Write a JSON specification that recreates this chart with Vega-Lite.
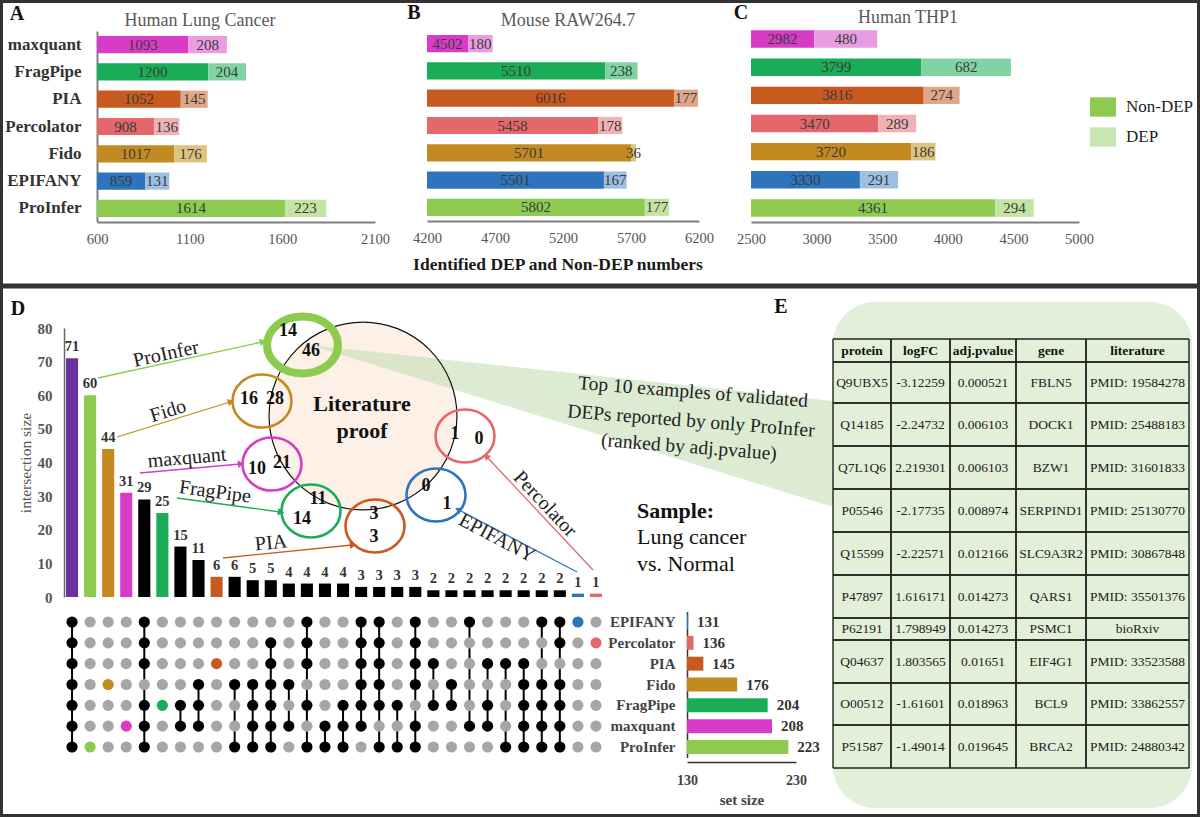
{
"$schema": "https://vega.github.io/schema/vega-lite/v6.json",
"width": 1200, "height": 817,
"autosize": {"type": "none"},
"padding": 0,
"background": "#ffffff",
"config": {
  "view": {"stroke": "#333333", "strokeWidth": 6},
  "font": "Liberation Serif",
  "axis": {"grid": false, "labelFont": "Liberation Serif", "titleFont": "Liberation Serif", "labelOverlap": false},
  "legend": {"labelFont": "Liberation Serif", "titleFont": "Liberation Serif"},
  "text": {"font": "Liberation Serif"}
},
"datasets": {
  "bars": [
    {"p":"A","m":"maxquant","non":1093,"dep":208},{"p":"A","m":"FragPipe","non":1200,"dep":204},{"p":"A","m":"PIA","non":1052,"dep":145},{"p":"A","m":"Percolator","non":908,"dep":136},{"p":"A","m":"Fido","non":1017,"dep":176},{"p":"A","m":"EPIFANY","non":859,"dep":131},{"p":"A","m":"ProInfer","non":1614,"dep":223},
    {"p":"B","m":"maxquant","non":4502,"dep":180},{"p":"B","m":"FragPipe","non":5510,"dep":238},{"p":"B","m":"PIA","non":6016,"dep":177},{"p":"B","m":"Percolator","non":5458,"dep":178},{"p":"B","m":"Fido","non":5701,"dep":36},{"p":"B","m":"EPIFANY","non":5501,"dep":167},{"p":"B","m":"ProInfer","non":5802,"dep":177},
    {"p":"C","m":"maxquant","non":2982,"dep":480},{"p":"C","m":"FragPipe","non":3799,"dep":682},{"p":"C","m":"PIA","non":3816,"dep":274},{"p":"C","m":"Percolator","non":3470,"dep":289},{"p":"C","m":"Fido","non":3720,"dep":186},{"p":"C","m":"EPIFANY","non":3330,"dep":291},{"p":"C","m":"ProInfer","non":4361,"dep":294}
  ],
  "inter": [
    {"c":1,"n":71,"k":"all","EPIFANY":1,"Percolator":1,"PIA":1,"Fido":1,"FragPipe":1,"maxquant":1,"ProInfer":1},
    {"c":2,"n":60,"k":"ProInfer","EPIFANY":0,"Percolator":0,"PIA":0,"Fido":0,"FragPipe":0,"maxquant":0,"ProInfer":1},
    {"c":3,"n":44,"k":"Fido","EPIFANY":0,"Percolator":0,"PIA":0,"Fido":1,"FragPipe":0,"maxquant":0,"ProInfer":0},
    {"c":4,"n":31,"k":"maxquant","EPIFANY":0,"Percolator":0,"PIA":0,"Fido":0,"FragPipe":0,"maxquant":1,"ProInfer":0},
    {"c":5,"n":29,"k":"multi","EPIFANY":1,"Percolator":1,"PIA":1,"Fido":0,"FragPipe":1,"maxquant":1,"ProInfer":1},
    {"c":6,"n":25,"k":"FragPipe","EPIFANY":0,"Percolator":0,"PIA":0,"Fido":0,"FragPipe":1,"maxquant":0,"ProInfer":0},
    {"c":7,"n":15,"k":"multi","EPIFANY":0,"Percolator":0,"PIA":0,"Fido":0,"FragPipe":1,"maxquant":1,"ProInfer":0},
    {"c":8,"n":11,"k":"multi","EPIFANY":0,"Percolator":0,"PIA":0,"Fido":1,"FragPipe":1,"maxquant":1,"ProInfer":0},
    {"c":9,"n":6,"k":"PIA","EPIFANY":0,"Percolator":0,"PIA":1,"Fido":0,"FragPipe":0,"maxquant":0,"ProInfer":0},
    {"c":10,"n":6,"k":"multi","EPIFANY":0,"Percolator":0,"PIA":0,"Fido":1,"FragPipe":0,"maxquant":0,"ProInfer":1},
    {"c":11,"n":5,"k":"multi","EPIFANY":0,"Percolator":0,"PIA":0,"Fido":1,"FragPipe":1,"maxquant":1,"ProInfer":1},
    {"c":12,"n":5,"k":"multi","EPIFANY":0,"Percolator":1,"PIA":1,"Fido":1,"FragPipe":1,"maxquant":1,"ProInfer":1},
    {"c":13,"n":4,"k":"multi","EPIFANY":0,"Percolator":0,"PIA":0,"Fido":1,"FragPipe":0,"maxquant":1,"ProInfer":0},
    {"c":14,"n":4,"k":"multi","EPIFANY":1,"Percolator":1,"PIA":1,"Fido":0,"FragPipe":1,"maxquant":0,"ProInfer":1},
    {"c":15,"n":4,"k":"multi","EPIFANY":0,"Percolator":0,"PIA":0,"Fido":0,"FragPipe":0,"maxquant":1,"ProInfer":1},
    {"c":16,"n":4,"k":"multi","EPIFANY":0,"Percolator":0,"PIA":0,"Fido":0,"FragPipe":1,"maxquant":1,"ProInfer":1},
    {"c":17,"n":3,"k":"multi","EPIFANY":1,"Percolator":1,"PIA":1,"Fido":1,"FragPipe":1,"maxquant":1,"ProInfer":0},
    {"c":18,"n":3,"k":"multi","EPIFANY":1,"Percolator":1,"PIA":1,"Fido":1,"FragPipe":1,"maxquant":0,"ProInfer":1},
    {"c":19,"n":3,"k":"multi","EPIFANY":0,"Percolator":0,"PIA":0,"Fido":0,"FragPipe":1,"maxquant":0,"ProInfer":1},
    {"c":20,"n":3,"k":"multi","EPIFANY":1,"Percolator":1,"PIA":1,"Fido":1,"FragPipe":0,"maxquant":1,"ProInfer":1},
    {"c":21,"n":2,"k":"multi","EPIFANY":0,"Percolator":0,"PIA":1,"Fido":0,"FragPipe":1,"maxquant":0,"ProInfer":0},
    {"c":22,"n":2,"k":"multi","EPIFANY":0,"Percolator":0,"PIA":0,"Fido":1,"FragPipe":1,"maxquant":0,"ProInfer":0},
    {"c":23,"n":2,"k":"multi","EPIFANY":1,"Percolator":0,"PIA":0,"Fido":0,"FragPipe":0,"maxquant":1,"ProInfer":0},
    {"c":24,"n":2,"k":"multi","EPIFANY":0,"Percolator":0,"PIA":1,"Fido":0,"FragPipe":1,"maxquant":1,"ProInfer":0},
    {"c":25,"n":2,"k":"multi","EPIFANY":0,"Percolator":0,"PIA":1,"Fido":0,"FragPipe":0,"maxquant":0,"ProInfer":1},
    {"c":26,"n":2,"k":"multi","EPIFANY":0,"Percolator":0,"PIA":1,"Fido":1,"FragPipe":1,"maxquant":1,"ProInfer":1},
    {"c":27,"n":2,"k":"multi","EPIFANY":1,"Percolator":0,"PIA":0,"Fido":1,"FragPipe":1,"maxquant":1,"ProInfer":1},
    {"c":28,"n":2,"k":"multi","EPIFANY":1,"Percolator":1,"PIA":0,"Fido":1,"FragPipe":1,"maxquant":1,"ProInfer":1},
    {"c":29,"n":1,"k":"EPIFANY","EPIFANY":1,"Percolator":0,"PIA":0,"Fido":0,"FragPipe":0,"maxquant":0,"ProInfer":0},
    {"c":30,"n":1,"k":"Percolator","EPIFANY":0,"Percolator":1,"PIA":0,"Fido":0,"FragPipe":0,"maxquant":0,"ProInfer":0}
  ],
  "sets": [
    {"s":"EPIFANY","n":131},{"s":"Percolator","n":136},{"s":"PIA","n":145},{"s":"Fido","n":176},{"s":"FragPipe","n":204},{"s":"maxquant","n":208},{"s":"ProInfer","n":223}
  ],
  "tbl": [
    {"r":0,"protein":"protein","logFC":"logFC","adjp":"adj.pvalue","gene":"gene","lit":"literature"},
    {"r":1,"protein":"Q9UBX5","logFC":"-3.12259","adjp":"0.000521","gene":"FBLN5","lit":"PMID: 19584278"},
    {"r":2,"protein":"Q14185","logFC":"-2.24732","adjp":"0.006103","gene":"DOCK1","lit":"PMID: 25488183"},
    {"r":3,"protein":"Q7L1Q6","logFC":"2.219301","adjp":"0.006103","gene":"BZW1","lit":"PMID: 31601833"},
    {"r":4,"protein":"P05546","logFC":"-2.17735","adjp":"0.008974","gene":"SERPIND1","lit":"PMID: 25130770"},
    {"r":5,"protein":"Q15599","logFC":"-2.22571","adjp":"0.012166","gene":"SLC9A3R2","lit":"PMID: 30867848"},
    {"r":6,"protein":"P47897","logFC":"1.616171","adjp":"0.014273","gene":"QARS1","lit":"PMID: 35501376"},
    {"r":7,"protein":"P62191","logFC":"1.798949","adjp":"0.014273","gene":"PSMC1","lit":"bioRxiv"},
    {"r":8,"protein":"Q04637","logFC":"1.803565","adjp":"0.01651","gene":"EIF4G1","lit":"PMID: 33523588"},
    {"r":9,"protein":"O00512","logFC":"-1.61601","adjp":"0.018963","gene":"BCL9","lit":"PMID: 33862557"},
    {"r":10,"protein":"P51587","logFC":"-1.49014","adjp":"0.019645","gene":"BRCA2","lit":"PMID: 24880342"}
  ],
  "arr": [
    {"s":"ProInfer","x1":98,"y1":378,"x2":262,"y2":342,"lx":166,"ly":354},
    {"s":"Fido","x1":117,"y1":437,"x2":230,"y2":402,"lx":168,"ly":411},
    {"s":"maxquant","x1":140,"y1":473,"x2":240,"y2":464,"lx":187,"ly":458},
    {"s":"FragPipe","x1":177,"y1":498,"x2":280,"y2":512,"lx":215,"ly":492},
    {"s":"PIA","x1":223,"y1":558,"x2":352,"y2":545,"lx":271,"ly":543},
    {"s":"EPIFANY","x1":577,"y1":572,"x2":459,"y2":510,"lx":497,"ly":538},
    {"s":"Percolator","x1":593,"y1":570,"x2":487,"y2":457,"lx":545,"ly":504}
  ],
  "cir": [
    {"s":"ProInfer","x":302.5,"y":345},{"s":"Fido","x":262,"y":401},{"s":"maxquant","x":272,"y":464},{"s":"FragPipe","x":311,"y":511},{"s":"PIA","x":375,"y":526},{"s":"Percolator","x":465,"y":436},{"s":"EPIFANY","x":436,"y":495}
  ],
  "vn": [
    {"s":"ProInfer","v":"14","x":288,"y":331},{"s":"ProInfer","v":"46","x":311,"y":351},
    {"s":"Fido","v":"16","x":249,"y":399},{"s":"Fido","v":"28","x":275,"y":399},
    {"s":"maxquant","v":"10","x":257,"y":469},{"s":"maxquant","v":"21","x":282,"y":463},
    {"s":"FragPipe","v":"11","x":318,"y":499},{"s":"FragPipe","v":"14","x":302,"y":519},
    {"s":"PIA","v":"3","x":374,"y":514},{"s":"PIA","v":"3","x":374,"y":537},
    {"s":"Percolator","v":"1","x":455,"y":434},{"s":"Percolator","v":"0","x":479,"y":439},
    {"s":"EPIFANY","v":"0","x":426,"y":486},{"s":"EPIFANY","v":"1","x":447,"y":504}
  ],
  "lit": [{"x":363,"y":416}],
  "wedge": [{"x":310,"y":345,"y2":345},{"x":833,"y":401,"y2":507}],
  "bg": [{"x":833,"x2":1192,"y":302,"y2":808}],
  "sep": [{"x":0,"x2":1200,"y":286}],
  "ann": [
    {"g":"L","t":"A","x":17,"y":14},{"g":"L","t":"B","x":414,"y":13},{"g":"L","t":"C","x":741,"y":13},{"g":"L","t":"D","x":18,"y":309},{"g":"L","t":"E","x":781,"y":307},
    {"g":"T","t":"Human Lung Cancer","x":200,"y":21},{"g":"T","t":"Mouse RAW264.7","x":568,"y":21},{"g":"T","t":"Human THP1","x":908,"y":18},
    {"g":"X","t":"Identified DEP and Non-DEP numbers","x":558,"y":265},
    {"g":"P","t":"Literature","x":362,"y":404},{"g":"P","t":"proof","x":362,"y":431},
    {"g":"S","t":"Sample:","x":637,"y":511},
    {"g":"R","t":"Lung cancer","x":637,"y":537},{"g":"R","t":"vs.  Normal","x":637,"y":564},
    {"g":"N","t":"Top 10 examples of validated","x":693,"y":392},{"g":"N","t":"DEPs reported by only ProInfer","x":691,"y":421},{"g":"N","t":"(ranked by adj.pvalue)","x":689,"y":447}
  ]
},
"layer": [
  {
    "layer": [
      {"data":{"name":"sep"},"mark":{"type":"rule","color":"#333333","strokeWidth":5},
       "encoding":{"x":{"field":"x","type":"quantitative","scale":{"domain":[0,1200],"range":[0,1200],"nice":false,"zero":false},"axis":null},"x2":{"field":"x2"},
                   "y":{"field":"y","type":"quantitative","scale":{"domain":[0,817],"range":[0,817],"nice":false,"zero":false},"axis":null}}},
      {"data":{"name":"bg"},"mark":{"type":"rect","color":"#e2efd9","cornerRadius":42},
       "encoding":{"x":{"field":"x","type":"quantitative"},"x2":{"field":"x2"},"y":{"field":"y","type":"quantitative"},"y2":{"field":"y2"}}},
      {"data":{"name":"lit"},"mark":{"type":"point","shape":"circle","size":35299,"filled":true,"color":"#fcf0e7","opacity":1},
       "encoding":{"x":{"field":"x","type":"quantitative"},"y":{"field":"y","type":"quantitative"}}},
      {"data":{"name":"wedge"},"mark":{"type":"area","orient":"vertical","color":"#c5e0b4","opacity":0.6},
       "encoding":{"x":{"field":"x","type":"quantitative"},"y":{"field":"y","type":"quantitative"},"y2":{"field":"y2"}}},
      {"data":{"name":"lit"},"mark":{"type":"point","shape":"circle","size":35299,"filled":false,"stroke":"#111111","strokeWidth":1.2,"opacity":1},
       "encoding":{"x":{"field":"x","type":"quantitative"},"y":{"field":"y","type":"quantitative"}}},
      {"data":{"name":"arr"},"mark":{"type":"rule","strokeWidth":1.3},
       "encoding":{"x":{"field":"x1","type":"quantitative"},"y":{"field":"y1","type":"quantitative"},"x2":{"field":"x2"},"y2":{"field":"y2"},
                   "color":{"field":"s","type":"nominal","scale":{"domain":["EPIFANY","Percolator","PIA","Fido","FragPipe","maxquant","ProInfer"],"range":["#2e74bc","#e4676c","#c85a20","#c38a21","#1bac58","#d83cc6","#8ccb4f"]},"legend":null}}},
      {"data":{"name":"arr"},"transform":[{"calculate":"atan2(datum.x2-datum.x1, datum.y1-datum.y2)*180/PI","as":"ha"}],
       "mark":{"type":"point","shape":"triangle","size":55,"filled":true,"opacity":1},
       "encoding":{"x":{"field":"x2","type":"quantitative"},"y":{"field":"y2","type":"quantitative"},"angle":{"field":"ha","type":"quantitative","scale":null},
                   "color":{"field":"s","type":"nominal","legend":null}}},
      {"data":{"name":"cir"},"transform":[{"filter":"datum.s != 'ProInfer'"}],
       "mark":{"type":"point","shape":"M-1,0A1,0.9,0,1,1,1,0A1,0.9,0,1,1,-1,0Z","size":3481,"filled":false,"strokeWidth":2.6,"opacity":1},
       "encoding":{"x":{"field":"x","type":"quantitative"},"y":{"field":"y","type":"quantitative"},"color":{"field":"s","type":"nominal","legend":null}}},
      {"data":{"name":"cir"},"transform":[{"filter":"datum.s == 'ProInfer'"}],
       "mark":{"type":"point","shape":"M-1,0A1,0.8,0,1,1,1,0A1,0.8,0,1,1,-1,0Z","size":5041,"filled":false,"strokeWidth":8,"opacity":1},
       "encoding":{"x":{"field":"x","type":"quantitative"},"y":{"field":"y","type":"quantitative"},"color":{"field":"s","type":"nominal","legend":null}}},
      {"data":{"name":"vn"},"mark":{"type":"text","fontSize":18,"fontWeight":"bold","color":"#111111"},
       "encoding":{"x":{"field":"x","type":"quantitative"},"y":{"field":"y","type":"quantitative"},"text":{"field":"v"}}},
      {"data":{"name":"arr"},"transform":[{"calculate":"atan2(datum.y2-datum.y1, datum.x2-datum.x1)*180/PI","as":"a0"},{"calculate":"datum.a0 > 90 ? datum.a0-180 : (datum.a0 < -90 ? datum.a0+180 : datum.a0)","as":"la"}],
       "mark":{"type":"text","fontSize":20,"color":"#222222"},
       "encoding":{"x":{"field":"lx","type":"quantitative"},"y":{"field":"ly","type":"quantitative"},"text":{"field":"s"},"angle":{"field":"la","type":"quantitative","scale":null}}},
      {"data":{"name":"ann"},"transform":[{"filter":"datum.g == 'L'"}],"mark":{"type":"text","fontSize":20,"fontWeight":"bold","color":"#111111"},
       "encoding":{"x":{"field":"x","type":"quantitative"},"y":{"field":"y","type":"quantitative"},"text":{"field":"t"}}},
      {"data":{"name":"ann"},"transform":[{"filter":"datum.g == 'T'"}],"mark":{"type":"text","fontSize":18,"color":"#595959"},
       "encoding":{"x":{"field":"x","type":"quantitative"},"y":{"field":"y","type":"quantitative"},"text":{"field":"t"}}},
      {"data":{"name":"ann"},"transform":[{"filter":"datum.g == 'X'"}],"mark":{"type":"text","fontSize":17.5,"fontWeight":"bold","color":"#1a1a1a"},
       "encoding":{"x":{"field":"x","type":"quantitative"},"y":{"field":"y","type":"quantitative"},"text":{"field":"t"}}},
      {"data":{"name":"ann"},"transform":[{"filter":"datum.g == 'P'"}],"mark":{"type":"text","fontSize":22,"fontWeight":"bold","color":"#111111"},
       "encoding":{"x":{"field":"x","type":"quantitative"},"y":{"field":"y","type":"quantitative"},"text":{"field":"t"}}},
      {"data":{"name":"ann"},"transform":[{"filter":"datum.g == 'S'"}],"mark":{"type":"text","fontSize":22,"fontWeight":"bold","align":"left","color":"#111111"},
       "encoding":{"x":{"field":"x","type":"quantitative"},"y":{"field":"y","type":"quantitative"},"text":{"field":"t"}}},
      {"data":{"name":"ann"},"transform":[{"filter":"datum.g == 'R'"}],"mark":{"type":"text","fontSize":22,"align":"left","color":"#111111"},
       "encoding":{"x":{"field":"x","type":"quantitative"},"y":{"field":"y","type":"quantitative"},"text":{"field":"t"}}},
      {"data":{"name":"ann"},"transform":[{"filter":"datum.g == 'N'"}],"mark":{"type":"text","fontSize":19.5,"angle":4.5,"color":"#222222"},
       "encoding":{"x":{"field":"x","type":"quantitative"},"y":{"field":"y","type":"quantitative"},"text":{"field":"t"}}}
    ]
  },
  {
    "data": {"name": "tbl"},
    "transform": [
      {"fold": ["protein","logFC","adjp","gene","lit"], "as": ["key","val"]},
      {"calculate": "indexof(['protein','logFC','adjp','gene','lit'], datum.key)", "as": "ci"},
      {"calculate": "datum.ci + 0.5", "as": "cx"},
      {"calculate": "datum.ci + 1", "as": "ce"},
      {"calculate": "datum.r + 0.5", "as": "ry"},
      {"calculate": "datum.r + 1", "as": "re"}
    ],
    "layer": [
      {"transform":[{"filter":"datum.r == 0"}],"mark":{"type":"rule","color":"#222222","strokeWidth":1.4},
       "encoding":{"x":{"field":"ci","type":"quantitative","scale":{"domain":[0,1,2,3,4,5],"range":[833,891,950,1016,1086,1189],"nice":false,"zero":false},"axis":null},
                   "y":{"datum":0,"type":"quantitative","scale":{"domain":[0,1,2,3,4,5,6,7,8,9,10,11],"range":[339,362,403,446,489,532,575,618,640,683,725,768],"nice":false,"zero":false},"axis":null},
                   "y2":{"datum":11}}},
      {"transform":[{"filter":"datum.r == 0"}],"mark":{"type":"rule","color":"#222222","strokeWidth":1.4},
       "encoding":{"x":{"field":"ce","type":"quantitative"},"y":{"datum":0,"type":"quantitative"},"y2":{"datum":11}}},
      {"transform":[{"filter":"datum.key == 'protein'"}],"mark":{"type":"rule","color":"#222222","strokeWidth":1.4},
       "encoding":{"y":{"field":"r","type":"quantitative"},"x":{"datum":0,"type":"quantitative"},"x2":{"datum":5}}},
      {"transform":[{"filter":"datum.key == 'protein'"}],"mark":{"type":"rule","color":"#222222","strokeWidth":1.4},
       "encoding":{"y":{"field":"re","type":"quantitative"},"x":{"datum":0,"type":"quantitative"},"x2":{"datum":5}}},
      {"transform":[{"filter":"datum.r == 0"}],"mark":{"type":"text","fontSize":13.5,"fontWeight":"bold","color":"#111111"},
       "encoding":{"x":{"field":"cx","type":"quantitative"},"y":{"field":"ry","type":"quantitative"},"text":{"field":"val"}}},
      {"transform":[{"filter":"datum.r > 0"}],"mark":{"type":"text","fontSize":13.5,"color":"#222222"},
       "encoding":{"x":{"field":"cx","type":"quantitative"},"y":{"field":"ry","type":"quantitative"},"text":{"field":"val"}}}
    ]
  },
  {
    "data": {"name": "bars"},
    "transform": [
      {"filter": "datum.p == 'A'"},
      {"calculate": "datum.non + datum.dep", "as": "tot"},
      {"calculate": "(600 + datum.non) / 2", "as": "m1"},
      {"calculate": "datum.non + datum.dep / 2", "as": "m2"}
    ],
    "encoding": {
      "y": {"field": "m", "type": "nominal", "sort": ["maxquant","FragPipe","PIA","Percolator","Fido","EPIFANY","ProInfer"],
            "scale": {"range": [31, 222], "paddingInner": 0.37, "paddingOuter": 0.185},
            "axis": {"orient": "left", "offset": -97, "title": null, "ticks": false, "domainColor": "#7f7f7f", "domainWidth": 2,
                     "labelFontWeight": "bold", "labelFontSize": 17, "labelColor": "#333333", "labelPadding": 16}}
    },
    "layer": [
      {"mark": {"type": "bar"},
       "encoding": {"x": {"field": "non", "type": "quantitative", "title": null, "scale": {"domain": [600, 2100], "range": [97, 375], "nice": false, "zero": false},
                          "axis": {"orient": "bottom", "offset": -595, "values": [600, 1100, 1600, 2100], "format": "d", "title": null, "ticks": false, "domainColor": "#7f7f7f", "domainWidth": 2,
                                   "labelFontSize": 14.5, "labelColor": "#555555", "labelPadding": 10, "labelFlush": false}},
                    "x2": {"datum": 600},
                    "color": {"field": "m", "type": "nominal", "scale": {"domain": ["maxquant","FragPipe","PIA","Percolator","Fido","EPIFANY","ProInfer"], "range": ["#d83cc6","#1bac58","#c85a20","#e4676c","#c38a21","#2e74bc","#8ccb4f"]}, "legend": null}}},
      {"mark": {"type": "bar"},
       "encoding": {"x": {"field": "non", "type": "quantitative", "title": null}, "x2": {"field": "tot"},
                    "color": {"field": "m", "type": "nominal", "scale": {"domain": ["maxquant","FragPipe","PIA","Percolator","Fido","EPIFANY","ProInfer"], "range": ["#e99ce1","#80d4a4","#e1a587","#f0b1b4","#dfc27e","#9dbfe3","#c4e4a3"]}, "legend": null}}},
      {"mark": {"type": "text", "fontSize": 15, "color": "#3a3a3a"},
       "encoding": {"x": {"field": "m1", "type": "quantitative", "title": null}, "text": {"field": "non", "type": "nominal"}}},
      {"mark": {"type": "text", "fontSize": 15, "color": "#3a3a3a"},
       "encoding": {"x": {"field": "m2", "type": "quantitative", "title": null}, "text": {"field": "dep", "type": "nominal"}}}
    ],
    "resolve": {"scale": {"color": "independent"}}
  },
  {
    "data": {"name": "bars"},
    "transform": [
      {"filter": "datum.p == 'B'"},
      {"calculate": "datum.non + datum.dep", "as": "tot"},
      {"calculate": "(4200 + datum.non) / 2", "as": "m1"},
      {"calculate": "datum.non + datum.dep / 2", "as": "m2"}
    ],
    "encoding": {
      "y": {"field": "m", "type": "nominal", "sort": ["maxquant","FragPipe","PIA","Percolator","Fido","EPIFANY","ProInfer"],
            "scale": {"range": [30, 221], "paddingInner": 0.37, "paddingOuter": 0.185}, "axis": null}
    },
    "layer": [
      {"mark": {"type": "bar"},
       "encoding": {"x": {"field": "non", "type": "quantitative", "title": null, "scale": {"domain": [4200, 6200], "range": [427, 699], "nice": false, "zero": false},
                          "axis": {"orient": "bottom", "offset": -596, "values": [4200, 4700, 5200, 5700, 6200], "format": "d", "title": null, "ticks": false, "domainColor": "#7f7f7f", "domainWidth": 2,
                                   "labelFontSize": 14.5, "labelColor": "#555555", "labelPadding": 10, "labelFlush": false}},
                    "x2": {"datum": 4200},
                    "color": {"field": "m", "type": "nominal", "scale": {"domain": ["maxquant","FragPipe","PIA","Percolator","Fido","EPIFANY","ProInfer"], "range": ["#d83cc6","#1bac58","#c85a20","#e4676c","#c38a21","#2e74bc","#8ccb4f"]}, "legend": null}}},
      {"mark": {"type": "bar"},
       "encoding": {"x": {"field": "non", "type": "quantitative", "title": null}, "x2": {"field": "tot"},
                    "color": {"field": "m", "type": "nominal", "scale": {"domain": ["maxquant","FragPipe","PIA","Percolator","Fido","EPIFANY","ProInfer"], "range": ["#e99ce1","#80d4a4","#e1a587","#f0b1b4","#dfc27e","#9dbfe3","#c4e4a3"]}, "legend": null}}},
      {"mark": {"type": "text", "fontSize": 15, "color": "#3a3a3a"},
       "encoding": {"x": {"field": "m1", "type": "quantitative", "title": null}, "text": {"field": "non", "type": "nominal"}}},
      {"mark": {"type": "text", "fontSize": 15, "color": "#3a3a3a"},
       "encoding": {"x": {"field": "m2", "type": "quantitative", "title": null}, "text": {"field": "dep", "type": "nominal"}}}
    ],
    "resolve": {"scale": {"color": "independent"}}
  },
  {
    "data": {"name": "bars"},
    "transform": [
      {"filter": "datum.p == 'C'"},
      {"calculate": "datum.non + datum.dep", "as": "tot"},
      {"calculate": "(2500 + datum.non) / 2", "as": "m1"},
      {"calculate": "datum.non + datum.dep / 2", "as": "m2"}
    ],
    "encoding": {
      "y": {"field": "m", "type": "nominal", "sort": ["maxquant","FragPipe","PIA","Percolator","Fido","EPIFANY","ProInfer"],
            "scale": {"range": [25, 222], "paddingInner": 0.38, "paddingOuter": 0.19}, "axis": null}
    },
    "layer": [
      {"mark": {"type": "bar"},
       "encoding": {"x": {"field": "non", "type": "quantitative", "title": null, "scale": {"domain": [2500, 5000], "range": [751, 1079], "nice": false, "zero": false},
                          "axis": {"orient": "bottom", "offset": -595, "values": [2500, 3000, 3500, 4000, 4500, 5000], "format": "d", "title": null, "ticks": false, "domainColor": "#7f7f7f", "domainWidth": 2,
                                   "labelFontSize": 14.5, "labelColor": "#555555", "labelPadding": 10, "labelFlush": false}},
                    "x2": {"datum": 2500},
                    "color": {"field": "m", "type": "nominal", "scale": {"domain": ["maxquant","FragPipe","PIA","Percolator","Fido","EPIFANY","ProInfer"], "range": ["#d83cc6","#1bac58","#c85a20","#e4676c","#c38a21","#2e74bc","#8ccb4f"]}, "legend": null}}},
      {"mark": {"type": "bar"},
       "encoding": {"x": {"field": "non", "type": "quantitative", "title": null}, "x2": {"field": "tot"},
                    "color": {"field": "m", "type": "nominal", "scale": {"domain": ["maxquant","FragPipe","PIA","Percolator","Fido","EPIFANY","ProInfer"], "range": ["#e99ce1","#80d4a4","#e1a587","#f0b1b4","#dfc27e","#9dbfe3","#c4e4a3"]}, "legend": null}}},
      {"mark": {"type": "text", "fontSize": 15, "color": "#3a3a3a"},
       "encoding": {"x": {"field": "m1", "type": "quantitative", "title": null}, "text": {"field": "non", "type": "nominal"}}},
      {"mark": {"type": "text", "fontSize": 15, "color": "#3a3a3a"},
       "encoding": {"x": {"field": "m2", "type": "quantitative", "title": null}, "text": {"field": "dep", "type": "nominal"}}}
    ],
    "resolve": {"scale": {"color": "independent"}}
  },
  {
    "data": {"values": [{"t": "Non-DEP"}, {"t": "DEP"}]},
    "mark": {"type": "square", "opacity": 0, "filled": true},
    "encoding": {
      "color": {"field": "t", "type": "nominal",
                "scale": {"domain": ["Non-DEP", "DEP"], "range": ["#8ccb50", "#c7e6b0"]},
                "legend": {"orient": "none", "legendX": 1093, "legendY": 97, "title": null, "padding": 0,
                           "symbolType": "M-1.35,-1H1.35V1H-1.35Z", "symbolSize": 372, "symbolOpacity": 1, "symbolStrokeWidth": 0,
                           "labelFontSize": 17, "labelColor": "#222222", "labelOffset": 13, "rowPadding": 10}}
    }
  },
  {
    "data": {"name": "inter"},
    "encoding": {
      "x": {"field": "c", "type": "ordinal", "sort": "ascending", "scale": {"range": [63, 605], "paddingInner": 0.33, "paddingOuter": 0.165}, "axis": null},
      "y": {"field": "n", "type": "quantitative", "scale": {"domain": [0, 80], "range": [597, 328], "nice": false, "zero": false},
            "axis": {"orient": "left", "offset": -64, "values": [0,10,20,30,40,50,60,70,80], "title": "intersection size",
                     "titleFontWeight": "normal", "titleFontSize": 15.5, "titleColor": "#555555", "titlePadding": 4,
                     "labelFontWeight": "bold", "labelFontSize": 15, "labelColor": "#555555", "labelPadding": 12, "labelFlush": false,
                     "ticks": false, "domainColor": "#666666", "domainWidth": 1.5}}
    },
    "layer": [
      {"mark": {"type": "bar"},
       "encoding": {"color": {"field": "k", "type": "nominal",
                              "scale": {"domain": ["all","ProInfer","Fido","maxquant","FragPipe","PIA","EPIFANY","Percolator","multi"],
                                        "range": ["#6a31a1","#8ccb4f","#c38a21","#d83cc6","#1bac58","#c85a20","#2e74bc","#e4676c","#000000"]}, "legend": null}}},
      {"mark": {"type": "text", "fontSize": 14.5, "fontWeight": "bold", "color": "#333333", "baseline": "alphabetic", "dy": -7},
       "encoding": {"text": {"field": "n", "type": "nominal"}}}
    ]
  },
  {
    "data": {"name": "inter"},
    "transform": [
      {"fold": ["EPIFANY","Percolator","PIA","Fido","FragPipe","maxquant","ProInfer"], "as": ["s","v"]},
      {"calculate": "datum.v == 0 ? 'none' : ((datum.k == 'multi' || datum.k == 'all') ? 'member' : datum.s)", "as": "dc"}
    ],
    "encoding": {
      "x": {"field": "c", "type": "ordinal", "sort": "ascending", "scale": {"range": [63, 605], "paddingInner": 0.33, "paddingOuter": 0.165}, "axis": null},
      "y": {"field": "s", "type": "nominal", "sort": ["EPIFANY","Percolator","PIA","Fido","FragPipe","maxquant","ProInfer"],
            "scale": {"range": [611.6, 757.4], "paddingInner": 0.33, "paddingOuter": 0.165}, "axis": null}
    },
    "layer": [
      {"transform": [{"filter": "datum.v == 1"}],
       "mark": {"type": "line", "color": "#000000", "strokeWidth": 2},
       "encoding": {"detail": {"field": "c", "type": "ordinal"}}},
      {"mark": {"type": "circle", "size": 125, "opacity": 1},
       "encoding": {"color": {"field": "dc", "type": "nominal",
                              "scale": {"domain": ["none","member","ProInfer","Fido","maxquant","FragPipe","PIA","EPIFANY","Percolator"],
                                        "range": ["#a6a6a6","#000000","#8ccb4f","#c38a21","#d83cc6","#1bac58","#c85a20","#2e74bc","#e4676c"]}, "legend": null}}}
    ]
  },
  {
    "data": {"name": "sets"},
    "encoding": {
      "y": {"field": "s", "type": "nominal", "sort": ["EPIFANY","Percolator","PIA","Fido","FragPipe","maxquant","ProInfer"],
            "scale": {"range": [611.6, 757.4], "paddingInner": 0.33, "paddingOuter": 0.165},
            "axis": {"orient": "left", "offset": -687, "title": null, "ticks": false, "domainColor": "#333333", "domainWidth": 1.5,
                     "labelFontWeight": "bold", "labelFontSize": 15, "labelColor": "#444444", "labelPadding": 12}},
      "x": {"field": "n", "type": "quantitative", "scale": {"domain": [130, 230], "range": [687, 796], "nice": false, "zero": false},
            "axis": {"orient": "bottom", "offset": -55, "values": [130, 230], "format": "d", "title": "set size", "ticks": false, "domainColor": "#333333", "domainWidth": 1.5,
                     "labelFontWeight": "bold", "labelFontSize": 14, "labelColor": "#444444", "labelPadding": 11, "labelFlush": false,
                     "titleFontWeight": "bold", "titleFontSize": 15, "titleColor": "#444444", "titlePadding": 5}}
    },
    "layer": [
      {"mark": {"type": "bar"},
       "encoding": {"x2": {"datum": 130},
                    "color": {"field": "s", "type": "nominal",
                              "scale": {"domain": ["EPIFANY","Percolator","PIA","Fido","FragPipe","maxquant","ProInfer"], "range": ["#2e74bc","#e4676c","#c85a20","#c38a21","#1bac58","#d83cc6","#8ccb4f"]}, "legend": null}}},
      {"mark": {"type": "text", "align": "left", "dx": 9, "fontWeight": "bold", "fontSize": 15, "color": "#333333"},
       "encoding": {"text": {"field": "n", "type": "nominal"}}}
    ]
  }
],
"resolve": {
  "scale": {"x": "independent", "y": "independent", "color": "independent"},
  "axis": {"x": "independent", "y": "independent"},
  "legend": {"color": "independent"}
}
}
